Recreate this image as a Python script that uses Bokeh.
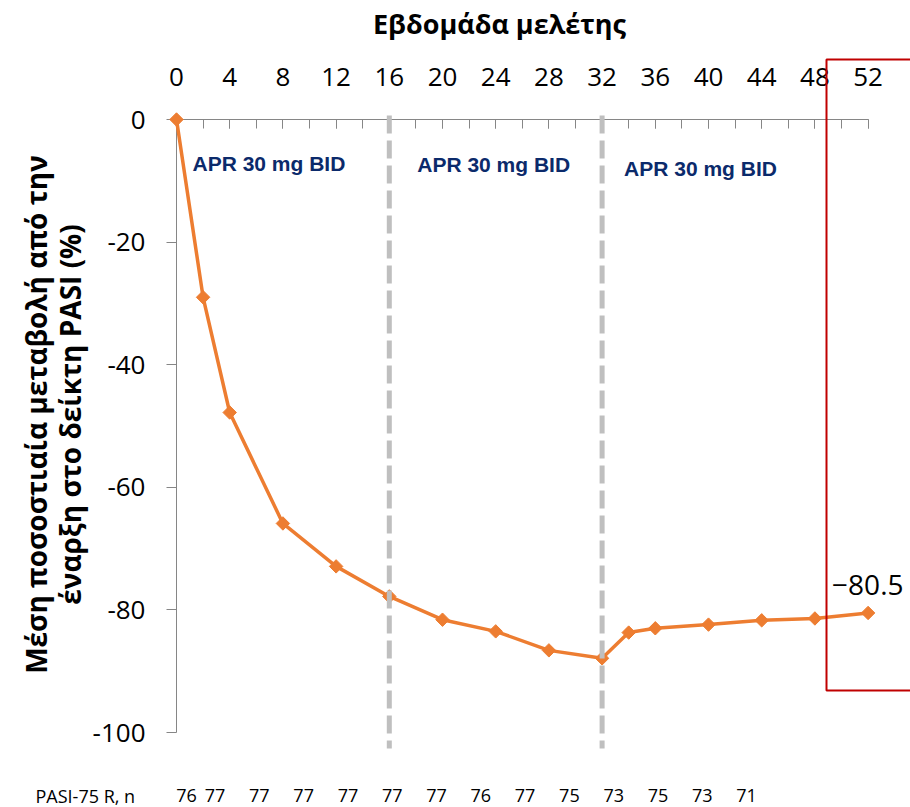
import math
from bokeh.plotting import figure
from bokeh.models import Range1d, SingleIntervalTicker, FixedTicker, ColumnDataSource
from bokeh.core.properties import value
from bokeh.embed import file_html
from bokeh.resources import INLINE

# ---------------- data ----------------
weeks = [0, 2, 4, 8, 12, 16, 20, 24, 28, 32, 34, 36, 40, 44, 48, 52]
pasi_change = [0, -29.0, -47.8, -65.9, -72.9, -77.8, -81.6, -83.5, -86.6,
               -87.9, -83.7, -83.0, -82.4, -81.7, -81.4, -80.5]
n_responders = ["76", "77", "77", "77", "77", "77", "77", "76", "77",
                "75", "73", "75", "73", "71"]
phase_starts = [0, 16, 32]
phase_labels = ["APR 30 mg BID", "APR 30 mg BID", "APR 30 mg BID"]
x_ticks_interval = 4
y_ticks = [0, -20, -40, -60, -80, -100]
final_label = "\u221280.5"
x_title = "Εβδομάδα μελέτης"
y_title = ["Μέση ποσοστιαία μεταβολή από την", "έναρξη στο δείκτη PASI (%)"]
n_row_title = "PASI-75 R, n"

# ---------------- layout ----------------
W, H = 910, 807
LEFT, TOP = 176, 119
PX_W = 13.3     # pixels per week
PX_Y = 6.13     # pixels per percentage point
x_end = (W - LEFT) / PX_W
y_start = -(H - TOP) / PX_Y

def wx(px):   # canvas x pixel -> week
    return (px - LEFT) / PX_W

def vy(py):   # canvas y pixel -> value
    return -(py - TOP) / PX_Y

FONT = "Open Sans"
ORANGE = "#ED7D31"
AXIS_GREY = "#868686"

p = figure(width=W, height=H, output_backend="svg", toolbar_location=None,
           x_range=Range1d(0, x_end), y_range=Range1d(y_start, 0),
           x_axis_location="above",
           min_border_left=LEFT, min_border_top=TOP,
           min_border_right=0, min_border_bottom=0)
p.outline_line_color = None
p.xgrid.visible = False
p.ygrid.visible = False
p.background_fill_color = "white"
p.border_fill_color = "white"

# top axis (weeks)
xa = p.xaxis[0]
xa.ticker = SingleIntervalTicker(interval=x_ticks_interval, num_minor_ticks=2)
xa.bounds = (weeks[0], weeks[-1])
xa.major_tick_in = 9
xa.major_tick_out = 0
xa.minor_tick_in = 9
xa.minor_tick_out = 0
xa.axis_line_color = AXIS_GREY
xa.major_tick_line_color = AXIS_GREY
xa.minor_tick_line_color = AXIS_GREY
xa.major_label_text_font = FONT
xa.major_label_text_font_size = "26px"
xa.major_label_text_color = "black"
xa.major_label_standoff = 34

# left axis (percent change)
ya = p.yaxis[0]
ya.ticker = FixedTicker(ticks=y_ticks)
ya.bounds = (y_ticks[-1], y_ticks[0])
ya.major_tick_out = 10
ya.major_tick_in = 0
ya.minor_tick_line_color = None
ya.axis_line_color = AXIS_GREY
ya.major_tick_line_color = AXIS_GREY
ya.major_label_overrides = {v: str(v) for v in y_ticks}
ya.major_label_text_font = FONT
ya.major_label_text_font_size = "26px"
ya.major_label_text_color = "black"
ya.major_label_standoff = 21

# series
src = ColumnDataSource(dict(week=weeks, change=pasi_change))
p.line("week", "change", source=src, line_color=ORANGE, line_width=3.5, level="overlay")
p.scatter("week", "change", source=src, marker="square", angle=math.pi / 4, size=9.5,
          fill_color=ORANGE, line_color=ORANGE, level="overlay")

# phase boundaries
bounds = phase_starts[1:]
p.segment(x0=bounds, y0=[vy(115)] * len(bounds), x1=bounds, y1=[vy(748)] * len(bounds),
          line_color="#BFBFBF", line_width=5, line_dash="18 7", level="overlay")

# phase labels
label_offsets = [1.2, 2.1, 1.65]
label_y = [vy(163), vy(164), vy(168)]
p.text(x=[s + o for s, o in zip(phase_starts, label_offsets)], y=label_y, text=phase_labels,
       text_font=value("Liberation Sans"), text_font_style="bold", text_font_size="21px",
       text_color="#0B2A6B", text_align="left", text_baseline="middle", level="overlay")

# highlight box around week 52
p.quad(left=[wx(826)], right=[wx(960)], top=[vy(59)], bottom=[vy(690)],
       fill_color=None, line_color="#C00000", line_width=2, level="overlay")
p.text(x=[weeks[-1]], y=[pasi_change[-1]], text=[final_label], x_offset=-36, y_offset=-28,
       text_font=value(FONT), text_font_size="28px", text_color="black",
       text_align="left", text_baseline="middle", level="overlay")

# n row
n_x = [0.75] + [2.9 + 3.33 * i for i in range(len(n_responders) - 1)]
p.text(x=n_x, y=[vy(795)] * len(n_x), text=n_responders,
       text_font=value(FONT), text_font_size="18px", text_color="black",
       text_align="center", text_baseline="middle", level="overlay")
p.text(x=[wx(35)], y=[vy(795)], text=[n_row_title],
       text_font=value(FONT), text_font_size="18px", text_color="black",
       text_align="left", text_baseline="middle", level="overlay")

# titles
p.text(x=[wx(499)], y=[vy(23)], text=[x_title], text_font=value(FONT), text_font_style="bold",
       text_font_size="27px", text_color="black", text_align="center",
       text_baseline="middle", level="overlay")
p.text(x=[wx(35), wx(69)], y=[vy(414), vy(414)], text=y_title, angle=math.pi / 2,
       text_font=value(FONT), text_font_style="bold", text_font_size="28px",
       text_color="black", text_align="center", text_baseline="middle", level="overlay")

open("out.html", "w").write(file_html(p, INLINE))
